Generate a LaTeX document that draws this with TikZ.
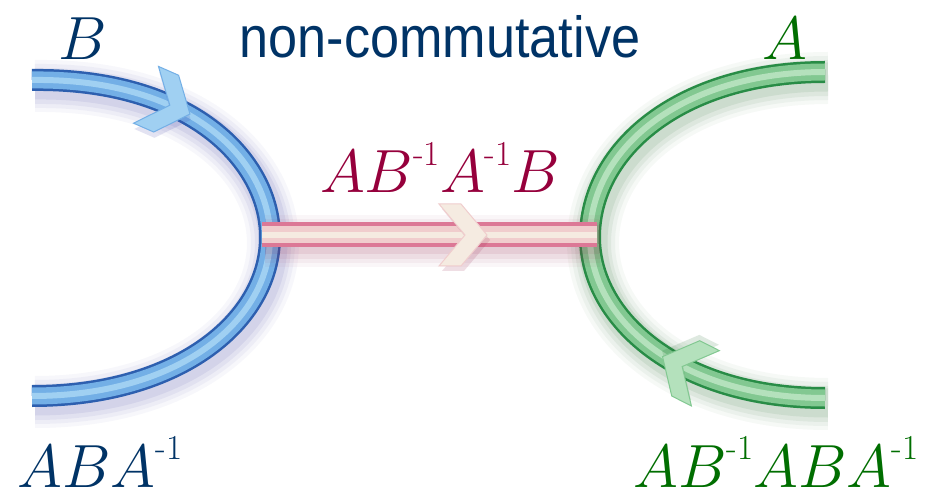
\documentclass[tikz,border=0pt]{standalone}
\usepackage{fix-cm}
\usepackage{fontspec}
\usetikzlibrary{decorations.markings}
\newfontfamily\lsans{Liberation Sans}
\definecolor{navy}{RGB}{0,51,102}
\definecolor{crim}{RGB}{150,0,60}
\definecolor{dgreen}{RGB}{0,110,0}
\definecolor{bdark}{RGB}{45,95,175}
\definecolor{bmid}{RGB}{115,175,230}
\definecolor{blight}{RGB}{160,208,242}
\definecolor{bglow}{RGB}{70,70,170}
\definecolor{gdark}{RGB}{40,140,70}
\definecolor{gmid}{RGB}{130,200,145}
\definecolor{glight}{RGB}{180,225,188}
\definecolor{gglow}{RGB}{40,110,50}
\definecolor{pdark}{RGB}{220,120,150}
\definecolor{pmid}{RGB}{240,205,205}
\definecolor{plight}{RGB}{245,235,225}
\definecolor{pglow}{RGB}{150,40,80}
\newcommand\msup[1]{\raisebox{0.45em}{\fontsize{35}{35}\selectfont\rmfamily\upshape #1}}
\tikzset{
  lab/.style={font=\fontsize{61}{61}\selectfont, inner sep=0pt, anchor=base},
  tube/.style n args={5}{line width=22pt, draw=#1,
    preaction={draw, line width=52pt, color=#4, opacity=0.04, transform canvas={shift={(3,6)}}},
    preaction={draw, line width=44pt, color=#4, opacity=0.05, transform canvas={shift={(3,6)}}},
    preaction={draw, line width=36pt, color=#4, opacity=0.07, transform canvas={shift={(3,6)}}},
    preaction={draw, line width=29pt, color=#4, opacity=0.09, transform canvas={shift={(3,5)}}},
    postaction={draw, line width=17pt, color=#2},
    postaction={draw, line width=6pt, color=#3},
    postaction={decorate, decoration={markings, mark=at position #5 with {
      \fill[#4, opacity=0.15, shift={(3,5)}] (-24,-31) -- (-2,-31) -- (24,0) -- (-2,31) -- (-24,31) -- (2,0) -- cycle;
      \fill[#3, draw=#2, line width=1pt] (-24,-31) -- (-2,-31) -- (24,0) -- (-2,31) -- (-24,31) -- (2,0) -- cycle;
    }}}}
}
\begin{document}
\begin{tikzpicture}[x=1pt,y=-1pt]
\useasboundingbox[fill=white] (0,0) rectangle (926,494);
\coordinate (b1) at (32,80);
\coordinate (bm) at (270,237);
\coordinate (b2) at (32,396);
\coordinate (g1) at (825,398);
\coordinate (gm) at (590,237);
\coordinate (g2) at (825,72);
\coordinate (p1) at (262,235);
\coordinate (p2) at (597,235);
\draw[tube={bdark}{bmid}{blight}{bglow}{0.22}] (b1) .. controls (190,78) and (270,160) .. (bm) .. controls (270,320) and (180,396) .. (b2);
\draw[tube={gdark}{gmid}{glight}{gglow}{0.23}] (g1) .. controls (680,398) and (590,320) .. (gm) .. controls (590,150) and (680,72) .. (g2);
\draw[tube={pdark}{pmid}{plight}{pglow}{0.6}, line width=25pt] (p1) -- (p2);
\node[lab, text=navy] (lB) at (83,60) {$B$};
\node[font=\lsans\fontsize{58}{58}\selectfont, text=navy, inner sep=0pt, anchor=base] (lnc) at (440,58) {\scalebox{0.9}[1]{non-commutative}};
\node[lab, text=dgreen] (lA) at (785,60) {$A$};
\node[lab, text=crim] (lmid) at (440,193) {$AB$\msup{-1}$A$\msup{-1}$B$};
\node[lab, text=navy] (lABA) at (100,487) {$ABA$\msup{-1}};
\node[lab, text=dgreen] (lcomm) at (776,487) {$AB$\msup{-1}$ABA$\msup{-1}};
\end{tikzpicture}
\end{document}
